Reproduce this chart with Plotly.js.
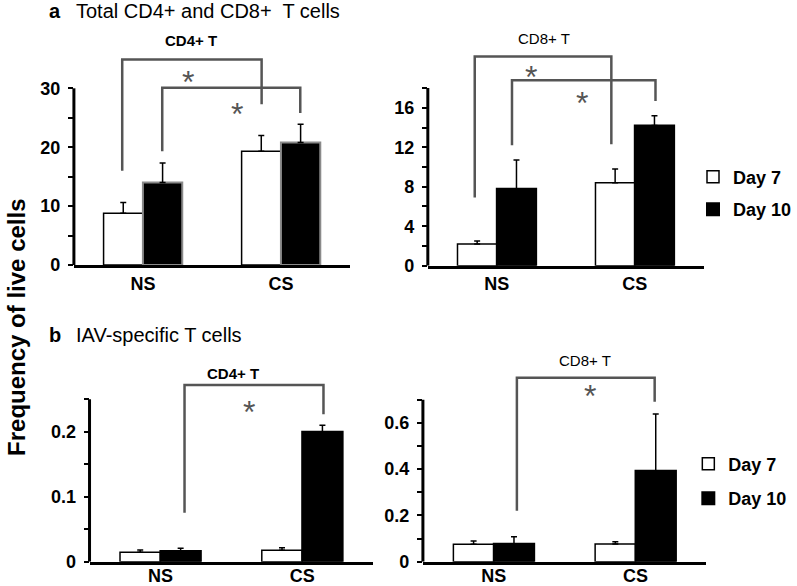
<!DOCTYPE html>
<html>
<head>
<meta charset="utf-8">
<script src="https://cdn.plot.ly/plotly-3.0.1.min.js"></script>
<style>
  html, body { margin: 0; padding: 0; background: #fff; }
  #chart { width: 797px; height: 586px; }
</style>
</head>
<body>
<div id="chart"></div>
<script>
// categories and series
var groups = ['NS', 'CS'];
var groupPos = [0, 1];
var seriesNames = ['Day 7', 'Day 10'];

// a: total CD4+ T cells
var cd4TotalDay7 = [8.8, 19.3];
var cd4TotalDay7Err = [1.8, 2.7];
var cd4TotalDay10 = [14.0, 20.8];
var cd4TotalDay10Err = [3.3, 3.1];

// a: total CD8+ T cells
var cd8TotalDay7 = [2.2, 8.4];
var cd8TotalDay7Err = [0.3, 1.4];
var cd8TotalDay10 = [7.8, 14.2];
var cd8TotalDay10Err = [2.9, 1.0];

// b: IAV-specific CD4+ T cells
var cd4IavDay7 = [0.0145, 0.0175];
var cd4IavDay7Err = [0.0035, 0.004];
var cd4IavDay10 = [0.0165, 0.200];
var cd4IavDay10Err = [0.004, 0.010];

// b: IAV-specific CD8+ T cells
var cd8IavDay7 = [0.075, 0.0765];
var cd8IavDay7Err = [0.014, 0.010];
var cd8IavDay10 = [0.078, 0.393];
var cd8IavDay10Err = [0.030, 0.245];

// y tick values / labels
var cd4TotalTicks = [0, 10, 20, 30];
var cd4TotalMinor = [5, 15, 25];
var cd8TotalTicks = [0, 4, 8, 12, 16];
var cd8TotalMinor = [2, 6, 10, 14, 18];
var cd4IavTicks = [0, 0.1, 0.2];
var cd4IavLabels = ['0', '0.1', '0.2'];
var cd4IavMinor = [0.05, 0.15, 0.25];
var cd8IavTicks = [0, 0.2, 0.4, 0.6];
var cd8IavLabels = ['0', '0.2', '0.4', '0.6'];
var cd8IavMinor = [0.1, 0.3, 0.5, 0.7];

// significance brackets: [x start, x end, y start, y top, y end] and star [x, y]
var cd4TotalBrackets = [[-0.15, 0.86, 16.0, 34.9, 27.3], [0.14, 1.14, 19.3, 30.1, 25.8]];
var cd4TotalStars = [[0.326, 32.2], [0.684, 26.9]];
var cd8TotalBrackets = [[-0.16, 0.83, 6.9, 21.2, 12.3], [0.11, 1.15, 12.2, 18.8, 16.7]];
var cd8TotalStars = [[0.251, 19.8], [0.616, 17.2]];
var cd4IavBrackets = [[0.17, 1.15, 0.0754, 0.272, 0.227]];
var cd4IavStars = [[0.627, 0.241]];
var cd8IavBrackets = [[0.163, 1.135, 0.22, 0.795, 0.691]];
var cd8IavStars = [[0.678, 0.745]];

var FONT = 'Arial, "Liberation Sans", sans-serif';

var panels = [
  { ax: '', d7: cd4TotalDay7, e7: cd4TotalDay7Err, d10: cd4TotalDay10, e10: cd4TotalDay10Err,
    ticks: cd4TotalTicks, labels: cd4TotalTicks.map(String), minor: cd4TotalMinor, top: 30,
    brackets: cd4TotalBrackets, stars: cd4TotalStars,
    xdom: [0.0932, 0.4413], ydom: [0.5478, 0.9096], yrange: [0, 36], d10line: '#8a8a8a',
    legend: null, standoff: 0 },
  { ax: '2', d7: cd8TotalDay7, e7: cd8TotalDay7Err, d10: cd8TotalDay10, e10: cd8TotalDay10Err,
    ticks: cd8TotalTicks, labels: cd8TotalTicks.map(String), minor: cd8TotalMinor, top: 18,
    brackets: cd8TotalBrackets, stars: cd8TotalStars,
    xdom: [0.5395, 0.8875], ydom: [0.5466, 0.9171], yrange: [0, 22], d10line: '#000',
    legend: 'legend', standoff: 0 },
  { ax: '3', d7: cd4IavDay7, e7: cd4IavDay7Err, d10: cd4IavDay10, e10: cd4IavDay10Err,
    ticks: cd4IavTicks, labels: cd4IavLabels, minor: cd4IavMinor, top: 0.25,
    brackets: cd4IavBrackets, stars: cd4IavStars,
    xdom: [0.1129, 0.4705], ydom: [0.0415, 0.352], yrange: [0, 0.28], d10line: '#000',
    legend: null, standoff: -4 },
  { ax: '4', d7: cd8IavDay7, e7: cd8IavDay7Err, d10: cd8IavDay10, e10: cd8IavDay10Err,
    ticks: cd8IavTicks, labels: cd8IavLabels, minor: cd8IavMinor, top: 0.7,
    brackets: cd8IavBrackets, stars: cd8IavStars,
    xdom: [0.5333, 0.8908], ydom: [0.0415, 0.3654], yrange: [0, 0.82], d10line: '#000',
    legend: 'legend2', standoff: -4 }
];

var data = [];
var shapes = [];
var annotations = [];
var layout = {
  width: 797, height: 586,
  margin: { l: 0, r: 0, t: 0, b: 0 },
  paper_bgcolor: '#fff', plot_bgcolor: 'rgba(0,0,0,0)',
  barmode: 'group', bargap: 0.43, bargroupgap: 0,
  font: { family: FONT, color: '#000' },
  legend: {
    x: 0.874, xanchor: 'left', y: 0.6706, yanchor: 'middle',
    font: { family: FONT, size: 18, weight: 'bold' }, tracegroupgap: 6, bgcolor: 'rgba(0,0,0,0)'
  },
  legend2: {
    x: 0.868, xanchor: 'left', y: 0.179, yanchor: 'middle',
    font: { family: FONT, size: 18, weight: 'bold' }, tracegroupgap: 8, bgcolor: 'rgba(0,0,0,0)'
  }
};

function errUp(vals) {
  return { type: 'data', symmetric: false, array: vals, arrayminus: vals.map(function () { return 0; }),
    color: '#000', thickness: 1.5, width: 3 };
}

panels.forEach(function (p) {
  var xa = 'x' + p.ax, ya = 'y' + p.ax;
  var show = p.legend !== null;

  data.push({
    type: 'bar', x: groupPos, y: p.d7, name: seriesNames[0], xaxis: xa, yaxis: ya,
    marker: { color: '#fff', line: { color: '#000', width: 1.5 } },
    error_y: errUp(p.e7), showlegend: show, legend: p.legend || 'legend', legendgroup: 'g7' + p.ax,
    hoverinfo: 'skip'
  });
  data.push({
    type: 'bar', x: groupPos, y: p.d10, name: seriesNames[1], xaxis: xa, yaxis: ya,
    marker: { color: '#000', line: { color: p.d10line, width: 2 } },
    error_y: errUp(p.e10), showlegend: show, legend: p.legend || 'legend', legendgroup: 'g10' + p.ax,
    hoverinfo: 'skip'
  });

  // brackets
  p.brackets.forEach(function (b) {
    data.push({
      type: 'scatter', mode: 'lines', xaxis: xa, yaxis: ya, showlegend: false, hoverinfo: 'skip',
      x: [b[0], b[0], b[1], b[1]], y: [b[2], b[3], b[3], b[4]],
      line: { color: '#555', width: 2.5 }
    });
  });
  p.stars.forEach(function (s) {
    annotations.push({
      xref: xa, yref: ya, x: s[0], y: s[1], text: '*', showarrow: false,
      yanchor: 'middle', yshift: -7, font: { family: FONT, size: 32, color: '#555' }
    });
  });

  // y axis line only up to the top tick
  shapes.push({
    type: 'line', xref: xa + ' domain', yref: ya, x0: 0, x1: 0, y0: 0, y1: p.top,
    line: { color: '#000', width: 3 }
  });

  layout['xaxis' + p.ax] = {
    domain: p.xdom, anchor: ya, range: [-0.5, 1.5],
    tickvals: groupPos, ticktext: groups, ticks: '',
    ticklabelstandoff: p.standoff,
    showline: true, linewidth: 3, linecolor: '#000',
    showgrid: false, zeroline: false, fixedrange: true,
    tickfont: { family: FONT, size: 18, weight: 'bold' }
  };
  layout['yaxis' + p.ax] = {
    domain: p.ydom, anchor: xa, range: p.yrange,
    tickvals: p.ticks, ticktext: p.labels,
    ticks: 'outside', ticklen: 5, tickwidth: 2, tickcolor: '#000',
    minor: { tickvals: p.minor, ticks: 'outside', ticklen: 5, tickwidth: 2, tickcolor: '#000', showgrid: false },
    ticklabelstandoff: 4,
    showline: false, showgrid: false, zeroline: false, fixedrange: true,
    tickfont: { family: FONT, size: 18, weight: 'bold' }
  };
});

function px(x) { return x / 797; }
function py(y) { return 1 - y / 586; }

// text labels, all centred vertically on their y
function label(x, y, text, size, bold, anchor) {
  return {
    xref: 'paper', yref: 'paper', x: px(x), y: py(y), xanchor: anchor || 'center', yanchor: 'middle',
    text: text, showarrow: false, font: { family: FONT, size: size, weight: bold ? 'bold' : 'normal' }
  };
}

var yTitle = label(16, 327, 'Frequency of live cells', 24, true);
yTitle.textangle = -90;

annotations.push(
  yTitle,
  label(47, 11, 'a', 20, true, 'left'),
  label(74, 11, 'Total CD4+ and CD8+&nbsp; T cells', 20, false, 'left'),
  label(47, 335, 'b', 20, true, 'left'),
  label(74, 335, 'IAV-specific T cells', 20, false, 'left'),
  label(192, 40, 'CD4+ T', 15, true),
  label(547, 39, 'CD8+ T', 15, false),
  label(234, 373, 'CD4+ T', 15, true),
  label(588, 361, 'CD8+ T', 15, false)
);

layout.shapes = shapes;
layout.annotations = annotations;

Plotly.newPlot('chart', data, layout, { staticPlot: true, displayModeBar: false });
</script>
</body>
</html>
